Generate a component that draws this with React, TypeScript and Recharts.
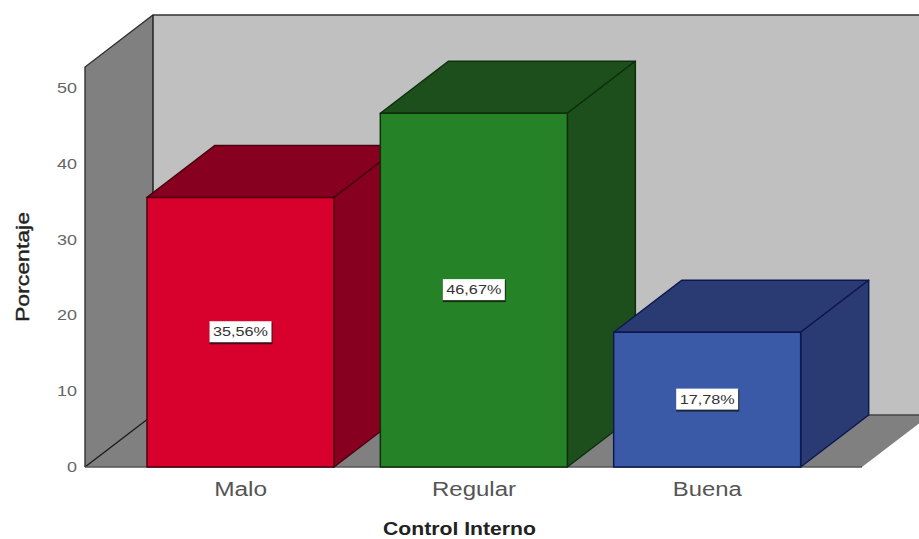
import React from 'react';
import { BarChart, Bar, XAxis, YAxis, Cell, LabelList, ReferenceArea, Label } from 'recharts';

const categories = ['Malo', 'Regular', 'Buena'];
const percentages = [35.56, 46.67, 17.78];
const valueTicks = [0, 10, 20, 30, 40, 50];
const categoryTextWidths = [53, 84, 69];
const frontColors = ['#d8002c', '#268226', '#3a5aa8'];
const shadeColors = ['#880020', '#1d4f1d', '#2a3a72'];
const edgeColors = ['#4a0010', '#0c300c', '#0c1850'];

const rows = categories.map((name, i) => ({ name, value: percentages[i] }));

const DX = 68;
const DY = 52;
const PAD_LEFT = 39;
const PAD_RIGHT = 38;
const SANS = '"Liberation Sans", Arial, sans-serif';

const formatPercent = (v: number) => v.toFixed(2).replace('.', ',') + '%';

// Extruded bar: front face plus the top and right faces receding into the chart.
function Box3D(props: any) {
  const { x, y, width, height, index } = props;
  const r = x + width;
  const b = y + height;
  const edge = edgeColors[index];
  return (
    <g stroke={edge} strokeWidth={1.5} strokeLinejoin="round">
      <polygon points={`${x},${y} ${r},${y} ${r + DX},${y - DY} ${x + DX},${y - DY}`} fill={shadeColors[index]} />
      <polygon points={`${r},${y} ${r + DX},${y - DY} ${r + DX},${b - DY} ${r},${b}`} fill={shadeColors[index]} />
      <rect x={x} y={y} width={width} height={height} fill={frontColors[index]} />
    </g>
  );
}

// Back wall, left wall and floor of the chart's box; the area spans the bands,
// so the axis padding is added back on each side.
function Room(props: any) {
  const { y, height } = props;
  const x = props.x - PAD_LEFT;
  const r = props.x + props.width + PAD_RIGHT;
  const b = y + height;
  return (
    <g>
      <rect x={x + DX} y={y - DY} width={r - x + DX} height={height} fill="#c0c0c0" />
      <polygon points={`${x},${b} ${x + DX},${b - DY} ${r + DX},${b - DY} ${r},${b}`} fill="#808080" />
      <polygon points={`${x},${y} ${x + DX},${y - DY} ${x + DX},${b - DY} ${x},${b}`} fill="#808080" />
      <g stroke="#1a1a1a" strokeWidth={1.4} fill="none">
        <path d={`M${x},${b} V${y} L${x + DX},${y - DY} H${r + DX}`} stroke="#333333" />
        <path d={`M${x + DX},${y - DY} V${b - DY} L${x},${b}`} />
        <path d={`M${x + DX},${b - DY} H${r + DX}`} stroke="#444444" />
        <path d={`M${x},${b} H${r}`} stroke="#555555" />
      </g>
    </g>
  );
}

function CategoryTick(props: any) {
  const { x, y, payload, index } = props;
  return (
    <text
      x={x}
      y={y + 21}
      textAnchor="middle"
      fontFamily={SANS}
      fontSize={20}
      fill="#555555"
      textLength={categoryTextWidths[index]}
      lengthAdjust="spacingAndGlyphs"
    >
      {payload.value}
    </text>
  );
}

function ValueTick(props: any) {
  const { y, payload } = props;
  const text = String(payload.value);
  return (
    <text
      x={77}
      y={y + 5}
      textAnchor="end"
      fontFamily={SANS}
      fontSize={14}
      fill="#666666"
      textLength={text.length * 10}
      lengthAdjust="spacingAndGlyphs"
    >
      {text}
    </text>
  );
}

function ValueBadge(props: any) {
  const { x, y, width, height, value } = props;
  const cx = x + width / 2;
  const cy = y + height / 2;
  return (
    <g>
      <rect x={cx - 31} y={cy - 10} width={63} height={22} fill="#111111" opacity={0.75} />
      <rect x={cx - 31} y={cy - 11} width={62} height={21} fill="#ffffff" />
      <text
        x={cx}
        y={cy + 4}
        textAnchor="middle"
        fontFamily={SANS}
        fontSize={12}
        fill="#333333"
        textLength={55}
        lengthAdjust="spacingAndGlyphs"
      >
        {formatPercent(value)}
      </text>
    </g>
  );
}

export default function App() {
  return (
    <div style={{ position: 'absolute', left: 0, top: 0, width: 919, height: 539, background: '#ffffff' }}>
      <BarChart
        width={919}
        height={539}
        data={rows}
        margin={{ top: 67, right: 57, bottom: 0, left: 0 }}
        barSize={187}
      >
        <ReferenceArea y1={0} y2={52.77} ifOverflow="visible" shape={<Room />} />
        <XAxis
          dataKey="name"
          axisLine={false}
          tickLine={false}
          height={72}
          padding={{ left: PAD_LEFT, right: PAD_RIGHT }}
          interval={0}
          tick={<CategoryTick />}
        >
          <Label
            content={() => (
              <text
                x={459.5}
                y={535}
                textAnchor="middle"
                fontFamily={SANS}
                fontSize={18}
                fontWeight={700}
                fill="#222222"
                textLength={153}
                lengthAdjust="spacingAndGlyphs"
              >
                Control Interno
              </text>
            )}
          />
        </XAxis>
        <YAxis
          domain={[0, 52.77]}
          ticks={valueTicks}
          width={85}
          axisLine={false}
          tickLine={false}
          interval={0}
          tick={<ValueTick />}
        >
          <Label
            content={() => (
              <text
                transform="translate(29,267) rotate(-90)"
                textAnchor="middle"
                fontFamily={SANS}
                fontSize={19}
                fill="#222222"
                stroke="#222222"
                strokeWidth={0.4}
                textLength={110}
                lengthAdjust="spacingAndGlyphs"
              >
                Porcentaje
              </text>
            )}
          />
        </YAxis>
        <Bar dataKey="value" isAnimationActive={false} shape={<Box3D />}>
          {rows.map((r) => (
            <Cell key={r.name} />
          ))}
          <LabelList dataKey="value" content={<ValueBadge />} />
        </Bar>
      </BarChart>
    </div>
  );
}
